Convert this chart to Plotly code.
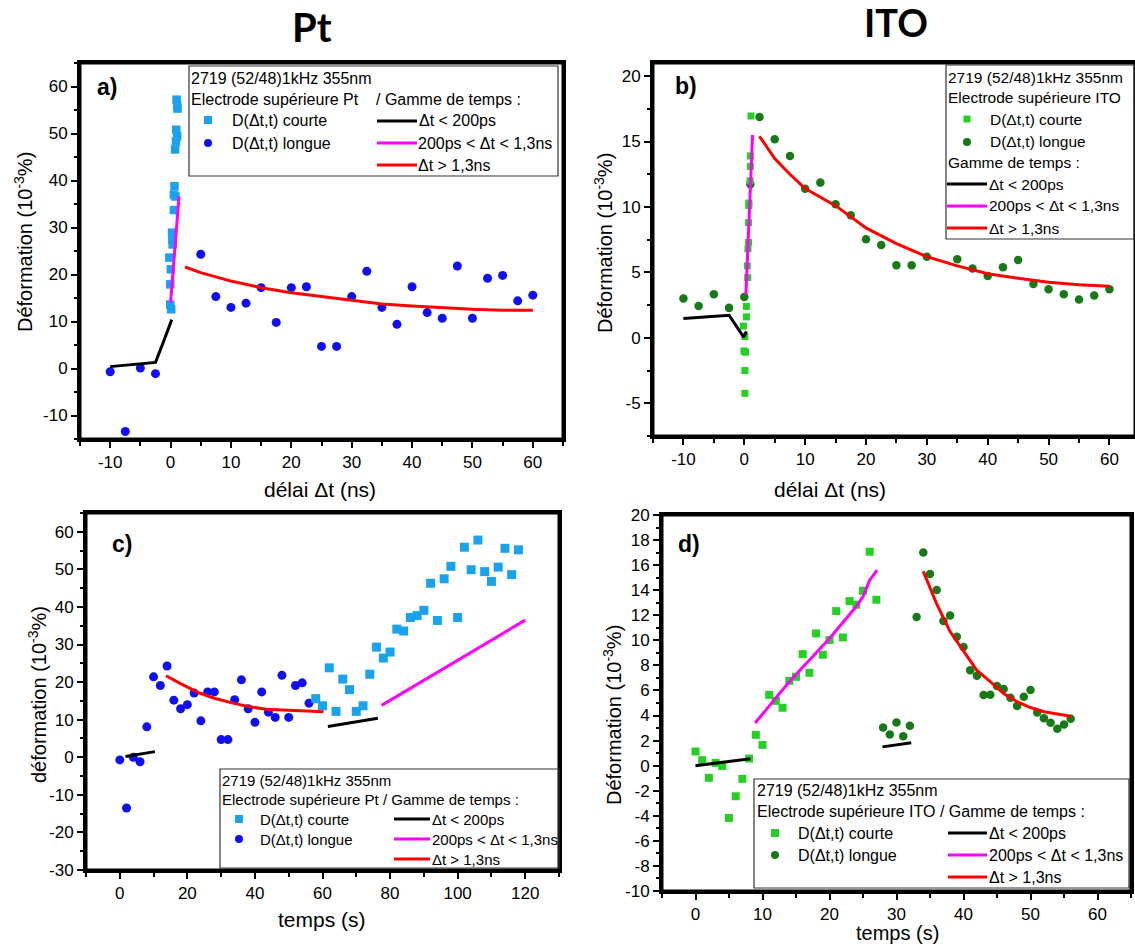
import plotly.graph_objects as go

W, H = 1135, 944
FONT = "Arial, Liberation Sans, sans-serif"

# ---------------- DATA ----------------
# (a) Pt electrode, deformation vs delay (ns)
a_courte_x = [1.0, 1.15, 1.1, 0.95, 1.1, 0.9, 0.75, 0.65, 0.55, 0.8, 0.55, 0.25, 0.3, 0.35, -0.2, 0.05, -0.05, -0.05, 0.1]
a_courte_y = [57.2, 55.3, 56.0, 50.8, 49.4, 48.3, 46.6, 38.8, 37.0, 36.6, 33.7, 28.9, 27.4, 26.4, 23.6, 21.1, 17.9, 13.6, 12.6]
a_longue_x = [-10, -7.5, -5, -2.5, 5, 7.5, 10, 12.5, 15, 17.5, 20, 22.5, 25, 27.5, 30, 32.5, 35, 37.5, 40, 42.5, 45, 47.5, 50, 52.5, 55, 57.5, 60]
a_longue_y = [-0.7, -13.4, 0.1, -1.1, 24.3, 15.3, 13.0, 13.9, 17.2, 9.8, 17.2, 17.4, 4.7, 4.7, 15.3, 20.7, 13.0, 9.4, 17.4, 11.9, 10.7, 21.8, 10.7, 19.2, 19.8, 14.4, 15.6]
a_fit1_x = [-10, -2.5, -1.2, 0.2]
a_fit1_y = [0.4, 1.3, 5.6, 10.4]
a_fit2_x = [0.0, 0.4, 0.8, 1.15, 1.4]
a_fit2_y = [14.0, 20.4, 27.5, 33.5, 36.6]
a_fit3_x = [2.4, 5, 10, 15, 20, 25, 30, 35, 40, 45, 50, 55, 60]
a_fit3_y = [21.6, 20.4, 18.6, 17.2, 16.1, 15.3, 14.4, 13.7, 13.3, 12.9, 12.6, 12.4, 12.4]

# (b) ITO electrode, deformation vs delay (ns)
b_courte_x = [0.1, 0.1, 0.2, -0.05, 0.1, -0.15, 0.35, 0.35, 0.55, 0.5, 0.6, 0.7, 0.7, 0.75, 0.75, 0.95, 1.0, 1.0, 1.1]
b_courte_y = [-4.24, -2.5, -1.1, -1.0, 0.1, 0.9, 1.6, 2.4, 4.6, 5.5, 6.8, 7.3, 8.8, 10.1, 10.3, 12.0, 13.1, 13.9, 16.95]
b_longue_x = [-10, -7.5, -5, -2.5, 0, 1.0, 2.5, 5, 7.5, 10, 12.5, 15, 17.5, 20, 22.5, 25, 27.5, 30, 35, 37.5, 40, 42.5, 45, 47.5, 50, 52.5, 55, 57.5, 60]
b_longue_y = [3.0, 2.44, 3.33, 2.29, 3.13, 11.73, 16.87, 15.17, 13.9, 11.4, 11.86, 10.2, 9.36, 7.53, 7.1, 5.55, 5.55, 6.2, 6.0, 5.3, 4.73, 5.4, 5.95, 4.12, 3.72, 3.33, 2.93, 3.23, 3.72]
b_fit1_x = [-10, -2.5, -0.1, 0.35]
b_fit1_y = [1.48, 1.73, 0.05, 0.5]
b_fit2_x = [0.27, 1.36]
b_fit2_y = [3.3, 15.5]
b_fit3_x = [2.5, 5, 7.5, 10, 15, 20, 25, 30, 35, 40, 45, 50, 55, 60]
b_fit3_y = [15.4, 13.7, 12.5, 11.4, 10.1, 8.4, 7.2, 6.2, 5.5, 4.9, 4.55, 4.25, 4.05, 3.95]

# (c) Pt electrode, deformation vs time (s)
c_longue_t = [0, 2, 4, 6, 8, 10, 12, 14, 16, 18, 20, 22, 24, 26, 28, 30, 32, 34, 36, 38, 40, 42, 44, 46, 48, 50, 52, 54, 56]
c_longue_y = [-0.7, -13.5, 0.0, -1.2, 8.1, 21.4, 19.1, 24.3, 15.2, 12.9, 14.0, 17.1, 9.7, 17.4, 17.4, 4.7, 4.7, 15.3, 20.6, 12.9, 9.3, 17.4, 12.0, 10.6, 21.8, 10.6, 19.1, 19.8, 14.4]
c_courte_t = [58, 60, 62, 64, 66, 68, 70, 72, 74, 76, 78, 80, 82, 84, 86, 88, 90, 92, 94, 96, 98, 100, 102, 104, 106, 108, 110, 112, 114, 116, 118]
c_courte_y = [15.6, 13.7, 23.8, 12.2, 20.8, 18.0, 12.2, 13.7, 22.1, 29.3, 26.4, 28.0, 34.1, 33.6, 37.2, 37.7, 39.1, 46.3, 36.4, 47.5, 50.8, 37.2, 55.9, 49.9, 57.8, 49.4, 46.8, 50.6, 55.6, 48.6, 55.2]
c_fit1a_t = [1.7, 10.4]
c_fit1a_y = [0.2, 1.5]
c_fit1b_t = [61.6, 76.4]
c_fit1b_y = [8.2, 10.4]
c_fit2_t = [77.5, 120]
c_fit2_y = [13.8, 36.5]
c_fit3_t = [13.7, 18, 23.6, 28, 33.5, 38, 43.3, 48, 53.2, 60.3]
c_fit3_y = [21.7, 19.6, 17.1, 15.7, 14.4, 13.5, 12.8, 12.6, 12.5, 12.1]

# (d) ITO electrode, deformation vs time (s)
d_courte_t = [0, 1, 2, 3, 4, 5, 6, 7, 8, 9, 10, 11, 12, 13, 14, 15, 16, 17, 18, 19, 20, 21, 22, 23, 24, 25, 26, 27]
d_courte_y = [1.13, 0.44, -0.97, 0.22, -0.02, -4.17, -2.44, -1.05, 0.57, 2.46, 1.66, 5.65, 5.17, 4.62, 6.77, 7.09, 8.9, 7.41, 10.55, 8.85, 10.02, 12.33, 10.23, 13.13, 12.84, 13.96, 17.07, 13.24]
d_longue_t = [28, 29, 30, 31, 32, 33, 34, 35, 36, 37, 38, 39, 40, 41, 42, 43, 44, 45, 46, 47, 48, 49, 50, 51, 52, 53, 54, 55, 56]
d_longue_y = [3.05, 2.49, 3.44, 2.35, 3.18, 11.86, 17.0, 15.29, 14.01, 11.54, 11.99, 10.28, 9.46, 7.62, 7.17, 5.63, 5.65, 6.35, 6.11, 5.41, 4.77, 5.49, 6.03, 4.24, 3.79, 3.42, 2.94, 3.28, 3.74]
d_fit1a_t = [0, 8.2]
d_fit1a_y = [0.0, 0.55]
d_fit1b_t = [27.9, 32.2]
d_fit1b_y = [1.5, 1.82]
d_fit2_t = [8.9, 14, 20, 24, 25, 26, 27.1]
d_fit2_y = [3.4, 6.7, 10.15, 12.7, 13.5, 14.8, 15.6]
d_fit3_t = [34, 36, 38, 40, 42, 44, 46, 48, 50, 52, 54, 56]
d_fit3_y = [15.5, 12.9, 10.7, 9.1, 7.6, 6.7, 5.76, 5.1, 4.64, 4.3, 4.1, 3.95]

# tick labels
a_xticks = [-10, 0, 10, 20, 30, 40, 50, 60]
a_yticks = [-10, 0, 10, 20, 30, 40, 50, 60]
b_xticks = [-10, 0, 10, 20, 30, 40, 50, 60]
b_yticks = [-5, 0, 5, 10, 15, 20]
c_xticks = [0, 20, 40, 60, 80, 100, 120]
c_yticks = [-30, -20, -10, 0, 10, 20, 30, 40, 50, 60]
d_xticks = [0, 10, 20, 30, 40, 50, 60]
d_yticks = [-10, -8, -6, -4, -2, 0, 2, 4, 6, 8, 10, 12, 14, 16, 18, 20]

# ---------------- STYLE ----------------
PT_C = "#1AA3EC"
PT_L = "#1010F0"
ITO_C = "#25D025"
ITO_L = "#177A17"
BLACK, MAG, RED = "#000000", "#FF00FF", "#FF0000"

def fx(p):
    return p / W

def fy(p):
    return 1 - p / H

fig = go.Figure()

def line(x, y, color, xa, ya):
    fig.add_trace(go.Scatter(x=x, y=y, mode="lines", line=dict(color=color, width=3),
                             xaxis=xa, yaxis=ya, showlegend=False, hoverinfo="skip"))

def pts(x, y, color, symbol, size, xa, ya):
    fig.add_trace(go.Scatter(x=x, y=y, mode="markers",
                             marker=dict(color=color, symbol=symbol, size=size, line=dict(width=0)),
                             xaxis=xa, yaxis=ya, showlegend=False))

# panel a
pts(a_longue_x, a_longue_y, PT_L, "circle", 9, "x", "y")
pts(a_courte_x, a_courte_y, PT_C, "square", 8.5, "x", "y")
line(a_fit1_x, a_fit1_y, BLACK, "x", "y")
line(a_fit2_x, a_fit2_y, MAG, "x", "y")
line(a_fit3_x, a_fit3_y, RED, "x", "y")
# panel b
pts(b_longue_x, b_longue_y, ITO_L, "circle", 8.5, "x2", "y2")
pts(b_courte_x, b_courte_y, ITO_C, "square", 7, "x2", "y2")
line(b_fit1_x, b_fit1_y, BLACK, "x2", "y2")
line(b_fit2_x, b_fit2_y, MAG, "x2", "y2")
line(b_fit3_x, b_fit3_y, RED, "x2", "y2")
# panel c
pts(c_longue_t, c_longue_y, PT_L, "circle", 9, "x3", "y3")
pts(c_courte_t, c_courte_y, PT_C, "square", 9, "x3", "y3")
line(c_fit1a_t, c_fit1a_y, BLACK, "x3", "y3")
line(c_fit1b_t, c_fit1b_y, BLACK, "x3", "y3")
line(c_fit2_t, c_fit2_y, MAG, "x3", "y3")
line(c_fit3_t, c_fit3_y, RED, "x3", "y3")
# panel d
pts(d_longue_t, d_longue_y, ITO_L, "circle", 8.5, "x4", "y4")
pts(d_courte_t, d_courte_y, ITO_C, "square", 8, "x4", "y4")
line(d_fit1a_t, d_fit1a_y, BLACK, "x4", "y4")
line(d_fit1b_t, d_fit1b_y, BLACK, "x4", "y4")
line(d_fit2_t, d_fit2_y, MAG, "x4", "y4")
line(d_fit3_t, d_fit3_y, RED, "x4", "y4")


def frange(a, b, s):
    out = []
    v = a
    while v <= b + 1e-9:
        out.append(round(v, 6))
        v += s
    return out


def axis(dom, rng, ticks, minor_step, anchor):
    return dict(domain=dom, range=rng, anchor=anchor, showgrid=False, zeroline=False,
                showline=True, linecolor="#000000", linewidth=3, mirror=True,
                ticks="outside", ticklen=6, tickwidth=2, tickcolor="#000000",
                tickmode="array", tickvals=ticks, ticktext=[str(t) for t in ticks],
                minor=dict(ticks="outside", ticklen=3.5, tickwidth=2, tickcolor="#000000",
                           tickmode="array", tickvals=frange(rng[0], rng[1], minor_step), showgrid=False),
                tickfont=dict(family=FONT, size=17, color="black"))


fig.update_layout(
    width=W, height=H, margin=dict(l=0, r=0, t=0, b=0, autoexpand=False), autosize=False,
    paper_bgcolor="white", plot_bgcolor="white", showlegend=False,
    xaxis=axis([fx(80), fx(563)], [-15, 65], a_xticks, 5, "y"),
    yaxis=axis([fy(439), fy(63)], [-15, 65], a_yticks, 5, "x"),
    xaxis2=axis([fx(653), 1.0], [-15, 64.2], b_xticks, 5, "y2"),
    yaxis2=axis([fy(436), fy(63)], [-7.5, 21], b_yticks, 2.5, "x2"),
    xaxis3=axis([fx(86), fx(559)], [-10, 130], c_xticks, 10, "y3"),
    yaxis3=axis([fy(870), fy(513)], [-30, 65], c_yticks, 5, "x3"),
    xaxis4=axis([fx(662), fx(1131)], [-5, 65], d_xticks, 5, "y4"),
    yaxis4=axis([fy(891), fy(515)], [-10, 20], d_yticks, 1, "x4"),
)

ann = []
shapes = []

# solid black frames around each panel
for xr, yr in [("x", "y"), ("x2", "y2"), ("x3", "y3"), ("x4", "y4")]:
    shapes.append(dict(type="rect", xref=xr + " domain", yref=yr + " domain", x0=0, x1=1, y0=0, y1=1,
                       line=dict(color="#000000", width=3), fillcolor="rgba(0,0,0,0)", layer="above"))

def text(s, x, y, size=16, anchor="left", bold=False, family=FONT, angle=0, color="black"):
    ann.append(dict(text=("<b>%s</b>" % s) if bold else s, x=fx(x), y=fy(y), xref="paper", yref="paper",
                    xanchor=anchor, yanchor="middle", showarrow=False, textangle=angle,
                    font=dict(family=family, size=size, color=color)))

# big titles
text("Pt", 312, 27, size=40, anchor="center", bold=True, family="Lato, Open Sans, sans-serif")
text("ITO", 896, 22, size=38, anchor="center", bold=True, family="Lato, Open Sans, sans-serif")
# panel letters
text("a)", 107, 87, size=23, anchor="center", bold=True)
text("b)", 686, 86, size=23, anchor="center", bold=True)
text("c)", 122, 544, size=23, anchor="center", bold=True)
text("d)", 689, 544, size=23, anchor="center", bold=True)
# axis titles
YT = "Déformation (10<sup>-3</sup>%)"
text(YT, 24, 242, size=20, anchor="center", angle=-90)
text(YT, 604, 243, size=20, anchor="center", angle=-90)
text("déformation (10<sup>-3</sup>%)", 37, 695, size=20, anchor="center", angle=-90)
text(YT, 612, 715, size=20, anchor="center", angle=-90)
text("délai Δt (ns)", 320, 490, size=21, anchor="center")
text("délai Δt (ns)", 830, 490, size=21, anchor="center")
text("temps (s)", 322, 919, size=21, anchor="center")
text("temps (s)", 897, 933, size=20, anchor="center")


def box(x0, y0, x1, y1):
    shapes.append(dict(type="rect", xref="paper", yref="paper", x0=fx(x0), x1=fx(x1), y0=fy(y1), y1=fy(y0),
                       line=dict(color="#333333", width=1.2), fillcolor="rgba(255,255,255,0)", layer="above"))

def sq(cx, cy, color, s=8):
    shapes.append(dict(type="rect", xref="paper", yref="paper", x0=fx(cx - s / 2), x1=fx(cx + s / 2),
                       y0=fy(cy + s / 2), y1=fy(cy - s / 2), line=dict(width=0), fillcolor=color))

def circ(cx, cy, color, s=8):
    shapes.append(dict(type="circle", xref="paper", yref="paper", x0=fx(cx - s / 2), x1=fx(cx + s / 2),
                       y0=fy(cy + s / 2), y1=fy(cy - s / 2), line=dict(width=0), fillcolor=color))

def seg(x0, x1, y, color):
    shapes.append(dict(type="line", xref="paper", yref="paper", x0=fx(x0), x1=fx(x1), y0=fy(y), y1=fy(y),
                       line=dict(color=color, width=3)))

# legend a
box(189, 66, 558, 176)
text("2719 (52/48)1kHz 355nm", 189, 78)
text("Electrode supérieure Pt", 189, 99)
text("/ Gamme de temps :", 374, 99)
sq(208, 120, PT_C); text("D(Δt,t) courte", 230, 120)
circ(208, 143, PT_L); text("D(Δt,t) longue", 230, 143)
seg(377, 417, 121, BLACK); text("Δt < 200ps", 417, 121)
seg(377, 417, 143, MAG); text("200ps < Δt < 1,3ns", 416, 143)
seg(377, 417, 165, RED); text("Δt > 1,3ns", 416, 165)

# legend b
box(946, 65, 1134, 239)
text("2719 (52/48)1kHz 355nm", 946, 77, size=15.5)
text("Electrode supérieure ITO", 946, 97, size=15.5)
sq(967, 119, ITO_C, 7); text("D(Δt,t) courte", 988, 119, size=15.5)
circ(967, 142, ITO_L); text("D(Δt,t) longue", 988, 142, size=15.5)
text("Gamme de temps :", 946, 162, size=15.5)
seg(947, 987, 184, BLACK); text("Δt < 200ps", 987, 184, size=15.5)
seg(947, 987, 206, MAG); text("200ps < Δt < 1,3ns", 987, 206, size=15.5)
seg(947, 987, 228, RED); text("Δt > 1,3ns", 987, 228, size=15.5)

# legend c
box(220, 769, 559, 868)
text("2719 (52/48)1kHz 355nm", 220, 780, size=15)
text("Electrode supérieure Pt / Gamme de temps :", 220, 799, size=15)
sq(239, 819, PT_C, 8); text("D(Δt,t) courte", 258, 819, size=15)
circ(239, 839, PT_L, 8); text("D(Δt,t) longue", 258, 839, size=15)
seg(394, 430, 819, BLACK); text("Δt < 200ps", 430, 819, size=15)
seg(394, 430, 839, MAG); text("200ps < Δt < 1,3ns", 430, 839, size=15)
seg(394, 430, 859, RED); text("Δt > 1,3ns", 430, 859, size=15)

# legend d
box(754, 779, 1129, 888)
text("2719 (52/48)1kHz 355nm", 755, 790)
text("Electrode supérieure ITO / Gamme de temps :", 755, 811)
sq(775, 833, ITO_C, 8); text("D(Δt,t) courte", 796, 833)
circ(775, 855, ITO_L, 8); text("D(Δt,t) longue", 796, 855)
seg(948, 987, 833, BLACK); text("Δt < 200ps", 987, 833)
seg(948, 987, 855, MAG); text("200ps < Δt < 1,3ns", 987, 855)
seg(948, 987, 877, RED); text("Δt > 1,3ns", 987, 877)

fig.update_layout(annotations=ann, shapes=shapes)
fig.write_html("out.html", config={"responsive": False, "displayModeBar": False},
               post_script="document.body.style.margin='0';document.body.style.overflow='hidden';")
